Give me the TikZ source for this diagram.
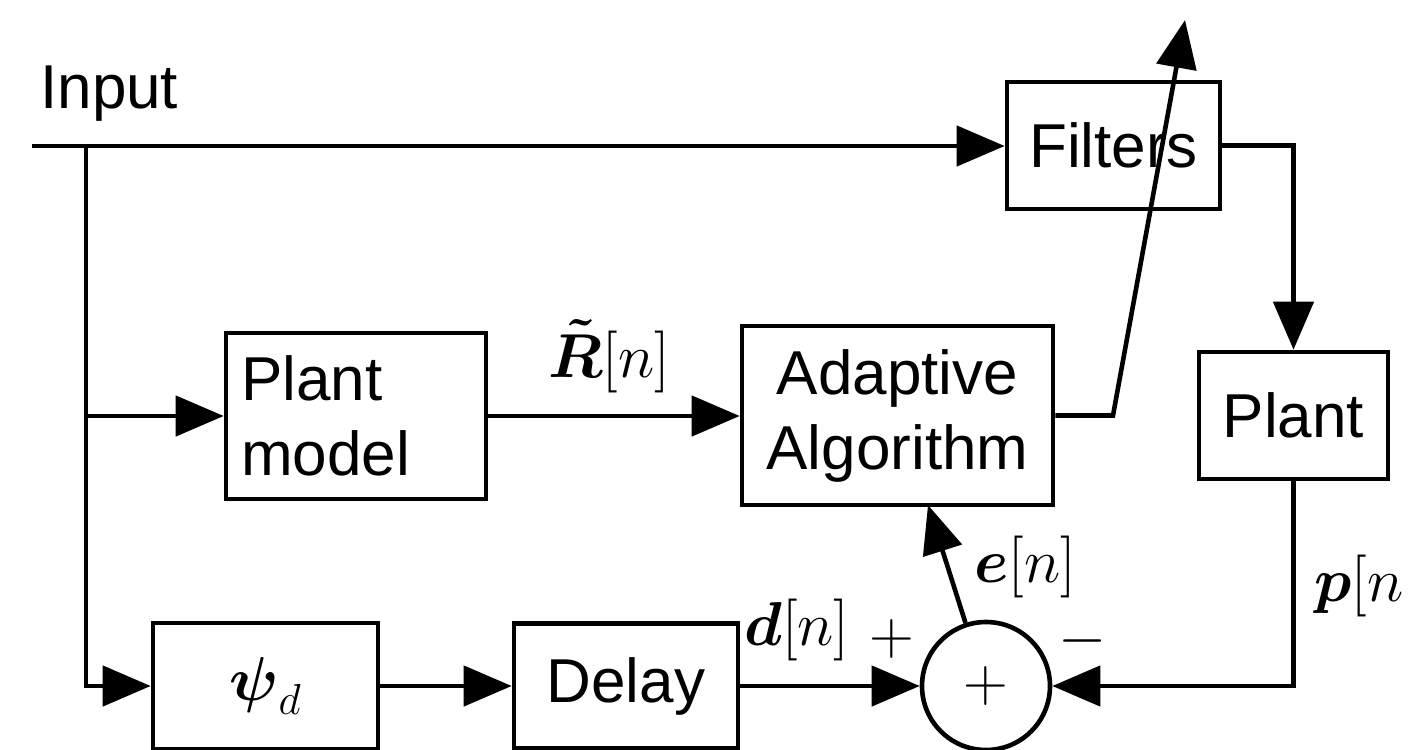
\RequirePackage{fix-cm}
\documentclass[tikz,border=0pt]{standalone}
\usepackage{amsmath}
\usepackage[no-math]{fontspec}
\newfontfamily\hv{Liberation Sans}
\usetikzlibrary{arrows.meta}
\begin{document}
\begin{tikzpicture}[x=0.5pt,y=-0.5pt,
  line width=2.3pt,
  every node/.style={font=\fontsize{31pt}{37.5pt}\selectfont, inner sep=0pt},
  blk/.style={draw, font=\fontsize{31pt}{37.5pt}\selectfont\hv, align=center},
  sumnode/.style={draw, circle, minimum size=64pt},
  arr/.style={-{Triangle[length=24pt,width=20pt]}}]
\useasboundingbox (0,0) rectangle (1410,750);

% blocks
\node[blk, minimum width=106.5pt, minimum height=63.5pt] (filters) at (1113.5,145.5) {Filters};
\node[blk, minimum width=94.5pt, minimum height=63.5pt] (plant) at (1293.5,415.5) {Plant};
\node[blk, minimum width=130pt, minimum height=83pt, align=left, text width=115pt] (pmodel) at (356,416) {Plant\\model};
\node[blk, minimum width=155.5pt, minimum height=89.5pt] (adapt) at (897.5,415.5) {Adaptive\\Algorithm};
\node[blk, minimum width=112.5pt, minimum height=63pt] (psi) at (265.5,686) {$\boldsymbol{\psi}_d$};
\node[blk, minimum width=112pt, minimum height=62.5pt] (delay) at (626,686) {Delay};
\node[sumnode] (sum) at (986,686) {$+$};

% labels
\node[anchor=base west, font=\fontsize{31pt}{37.5pt}\selectfont\hv] (inputlbl) at (38,108) {Input};
\node[anchor=base] (rlbl) at (609,377) {$\boldsymbol{\tilde{R}}[n]$};
\node[anchor=base west] (dlbl) at (742,645) {$\boldsymbol{d}[n]$};
\node (dplus) at (892,639) {$+$};
\node (pminus) at (1083,641) {$-$};
\node[anchor=base west] (elbl) at (972,582) {$\boldsymbol{e}[n]$};
\node[anchor=base west] (plbl) at (1312,601) {$\boldsymbol{p}[n$};

% connectors
\coordinate (in) at (32,146);
\coordinate (br) at (86,146);
\coordinate (tk) at (1113,416);
\coordinate (tt) at (1185,20);
\coordinate (etip) at (928,505);

\draw[arr] (in) -- (in -| filters.west);
\draw[arr] (br) |- (psi.west);
\draw[arr] (br |- pmodel.west) -- (pmodel.west);
\draw[arr] (pmodel.east) -- (pmodel.east -| adapt.west);
\draw[arr] (filters.east) -| (plant.north);
\draw[arr] (plant.south) |- (sum.east);
\draw[arr] (psi.east) -- (delay.west);
\draw[arr] (delay.east) -- (sum.west);
\draw[arr] (adapt.east) -- (adapt.east -| tk) -- (tt);
\draw[arr] (sum.108) -- (etip);
\end{tikzpicture}
\end{document}
